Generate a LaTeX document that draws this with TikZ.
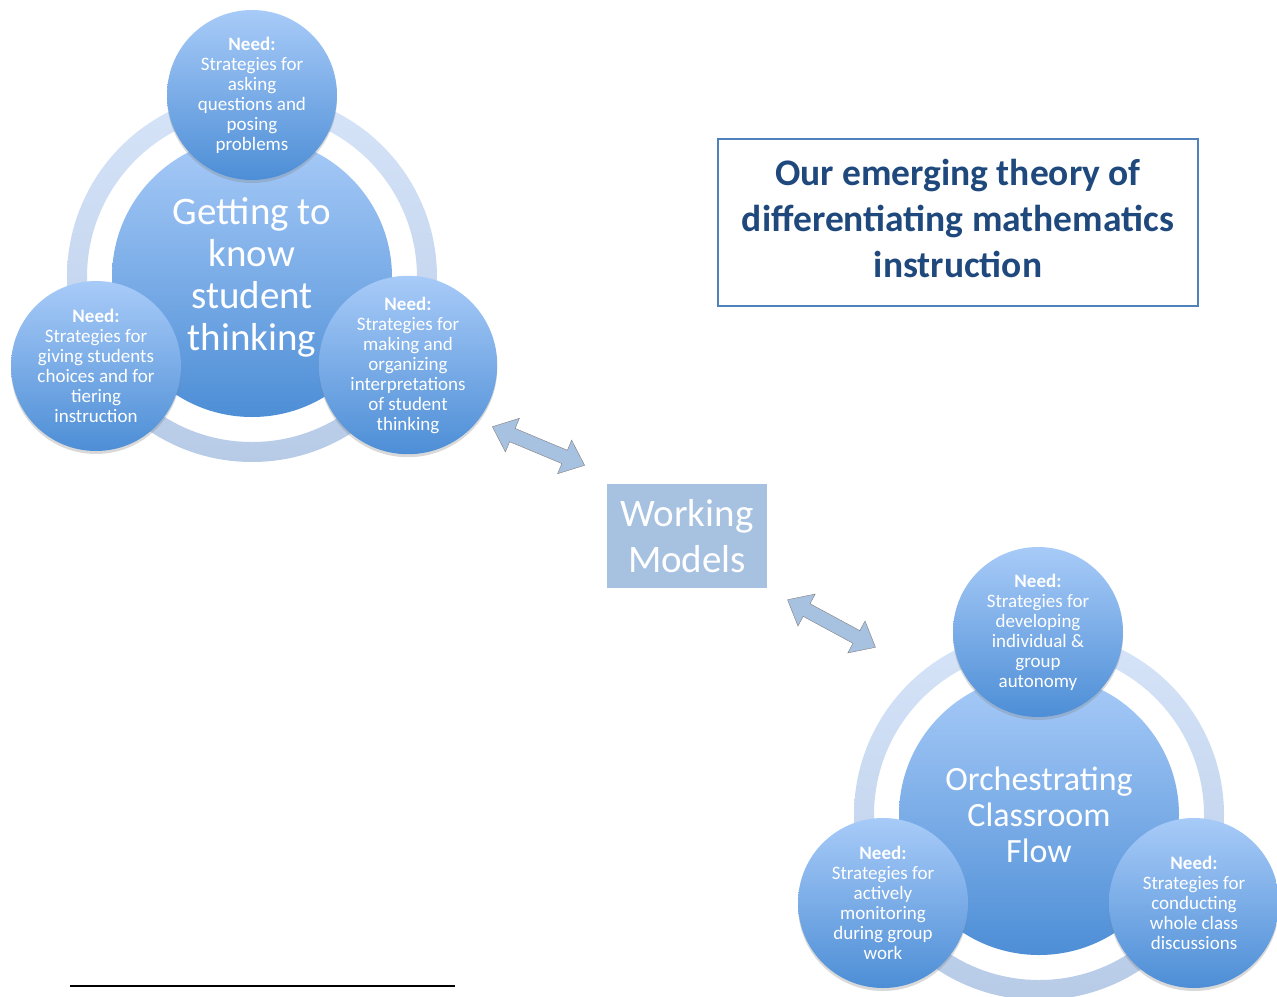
\documentclass[tikz,border=0pt]{standalone}
\usepackage{fontspec}
\setmainfont{Carlito}
\usetikzlibrary{positioning, shapes.arrows, shadows}
\definecolor{ringtop}{HTML}{D6E4F8}
\definecolor{ringbot}{HTML}{B7CBE7}
\definecolor{balltop}{HTML}{A8CBF8}
\definecolor{ballbot}{HTML}{4D8ED6}
\definecolor{boxblue}{HTML}{A7C1E0}
\definecolor{titleblue}{HTML}{1F497D}
\definecolor{frameblue}{HTML}{4F81BD}

\begin{document}
\begin{tikzpicture}[x=1pt, y=-1pt,
          ball/.style={circle, inner sep=0pt, top color=balltop, bottom color=ballbot, text=white, align=center},
          big/.style={ball, minimum size=280pt, font=\fontsize{39}{42}\selectfont},
          need/.style={ball, minimum size=170pt, font=\fontsize{19}{20}\selectfont,
                       drop shadow={shadow xshift=0pt, shadow yshift=-3pt, opacity=.3}},
          ring/.style={top color=ringtop, bottom color=ringbot, even odd rule},
          link/.style={double arrow, draw=gray, fill=boxblue, minimum height=100pt, minimum width=36pt,
                       double arrow head extend=11pt, double arrow tip angle=80, inner sep=7pt}]
        \useasboundingbox (0,0) rectangle (1277,996);
        % first cycle
        \path[ring] (252,277) circle[radius=185] circle[radius=165];
        \node[big] (g) at (252,277) {Getting to\\know\\student\\thinking};
        \node[need] (gt) at (252,95) {\textbf{Need:}\\Strategies for\\asking\\questions and\\posing\\problems};
        \node[need] (gl) at (96,366) {\textbf{Need:}\\Strategies for\\giving students\\choices and for\\tiering\\instruction};
        \node[need] (gr) at (408,365) {\textbf{Need:}\\Strategies for\\making and\\organizing\\interpretations\\of student\\thinking};
        % second cycle
        \path[ring] (1039,815) circle[radius=185] circle[radius=165];
        \node[big, font=\fontsize{34}{36}\selectfont] (o) at (1039,815) {Orchestrating\\Classroom\\Flow};
        \node[need] (ot) at (1038,632) {\textbf{Need:}\\Strategies for\\developing\\individual \&\\group\\autonomy};
        \node[need] (ol) at (883,903) {\textbf{Need:}\\Strategies for\\actively\\monitoring\\during group\\work};
        \node[need] (or) at (1194,903) {\textbf{Need:}\\Strategies for\\conducting\\whole class\\discussions};
        % middle
        \node[fill=boxblue, text=white, minimum width=160pt, minimum height=104pt, align=center,
              font=\fontsize{39}{46}\selectfont] (w) at (687,536) {Working\\Models};
        \node[link, rotate=-22.7] (a1) at (538.5,446) {};
        \node[link, rotate=-28.4] (a2) at (831.5,623.5) {};
        % title
        \node[draw=frameblue, line width=1.2pt, minimum width=480pt, minimum height=167pt] (tb) at (958,222.5) {};
        \node[text=titleblue, align=center, font=\bfseries\fontsize{37.5}{46}\selectfont, yshift=4pt] (t) at (tb)
              {Our emerging theory of\\differentiating mathematics\\instruction};
        \draw[line width=1.5pt] (70,986) -- (455,986);
      \end{tikzpicture}
\end{document}
